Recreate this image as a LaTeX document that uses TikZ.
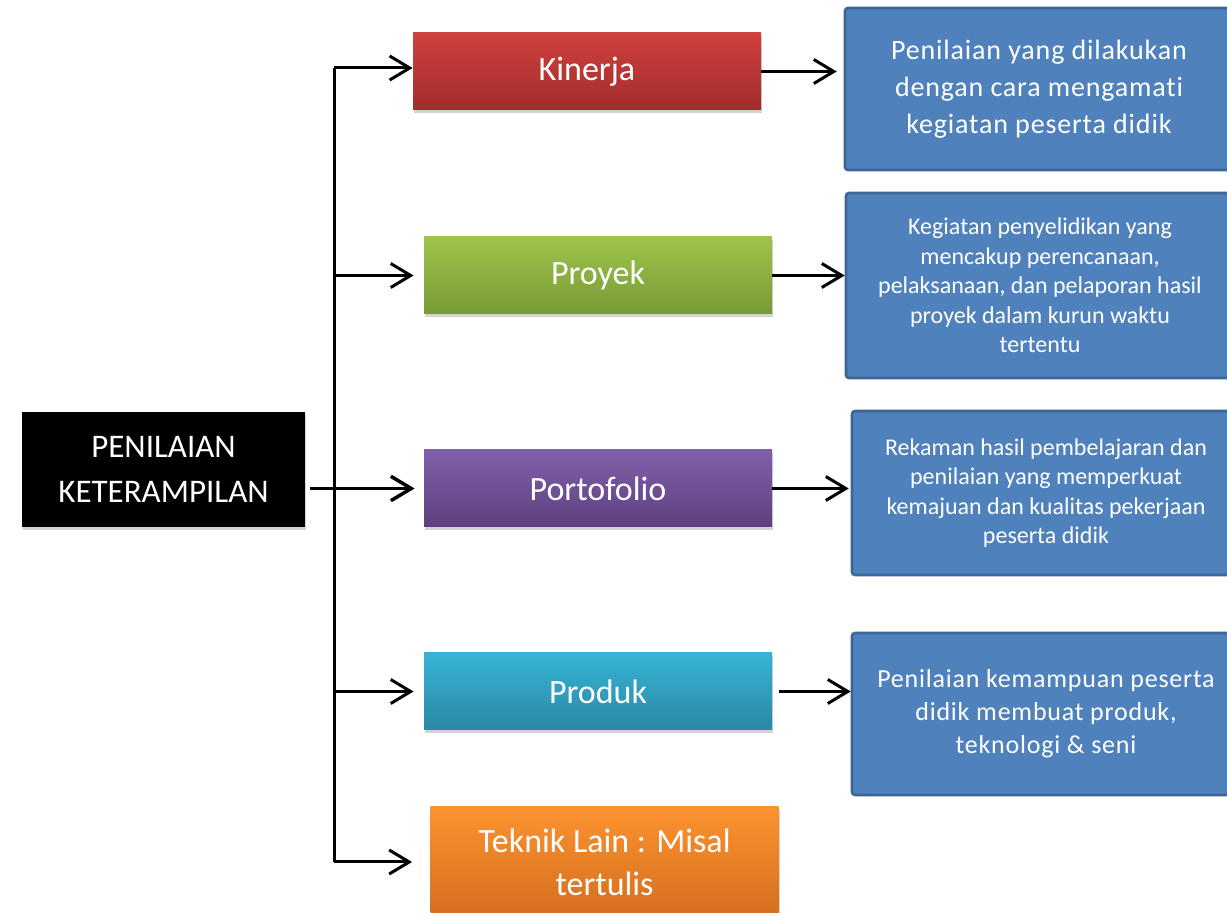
\documentclass[tikz,border=0pt]{standalone}
\usepackage{fontspec}
\setmainfont{Carlito}[Ligatures=NoCommon]
\usetikzlibrary{arrows.meta,shadows,positioning}

\definecolor{kinerjatop}{HTML}{D0403E}
\definecolor{kinerjabot}{HTML}{A12D2B}
\definecolor{proyektop}{HTML}{9DC44B}
\definecolor{proyekbot}{HTML}{779A36}
\definecolor{portotop}{HTML}{8060AA}
\definecolor{portobot}{HTML}{5E4080}
\definecolor{produktop}{HTML}{36B4D6}
\definecolor{produkbot}{HTML}{2A88A4}
\definecolor{tekniktop}{HTML}{FC9330}
\definecolor{teknikbot}{HTML}{D46E1E}
\definecolor{descfill}{HTML}{4F81BD}
\definecolor{descline}{HTML}{3B6693}

\begin{document}
\begin{tikzpicture}[x=0.5pt,y=-0.5pt]
    \tikzstyle{arr}=[line width=1.5pt,-{Straight Barb[length=10pt,width=12pt,line width=1.5pt]}]
    \tikzstyle{boxshadow}=[drop shadow={opacity=0.35,shadow xshift=0.6pt,shadow yshift=-1.6pt}]
    \tikzstyle{mainbox}=[fill=black,boxshadow,text=white,align=center,minimum width=141.5pt,minimum height=57.5pt,font=\fontsize{16.5}{22.5}\selectfont]
    \tikzstyle{method}=[boxshadow,text=white,align=center,minimum width=174pt,minimum height=38.5pt,font=\fontsize{17}{21.5}\selectfont]
    \tikzstyle{desc}=[draw=descline,line width=1.3pt,fill=descfill,rounded corners=1.5pt,text=white,align=center,minimum width=194pt,minimum height=81pt]

    \useasboundingbox (0,0) rectangle (1227,913);

    \node[mainbox] (ketr) at (163.5,469.5) {PENILAIAN\\KETERAMPILAN};

    \node[method,top color=kinerjatop,bottom color=kinerjabot] (kinerja)    at (587,71.5)  {Kinerja};
    \node[method,top color=proyektop,bottom color=proyekbot]   (proyek)     at (598,275.5) {Proyek};
    \node[method,top color=portotop,bottom color=portobot]     (portofolio) at (598,488.5) {Portofolio};
    \node[method,top color=produktop,bottom color=produkbot]   (produk)     at (598,691.5) {Produk};
    \node[method,top color=tekniktop,bottom color=teknikbot,minimum height=55pt] (teknik) at (604.5,862) {Teknik Lain : Misal\\tertulis};

    \node[desc,font=\fontsize{14}{18.5}\selectfont\addfontfeatures{LetterSpace=3}] (desc1) at (1039,89)
      {Penilaian yang dilakukan\\dengan cara mengamati\\kegiatan peserta didik};
    \node[desc,minimum height=92.5pt,font=\fontsize{12}{14.75}\selectfont] (desc2) at (1040,285.5)
      {Kegiatan penyelidikan yang\\mencakup perencanaan,\\pelaksanaan, dan pelaporan hasil\\proyek dalam kurun waktu\\tertentu};
    \node[desc,minimum height=82pt,font=\fontsize{12}{14.75}\selectfont] (desc3) at (1046,493)
      {Rekaman hasil pembelajaran dan\\penilaian yang memperkuat\\kemajuan dan kualitas pekerjaan\\peserta didik};
    \node[desc,font=\fontsize{13}{16.5}\selectfont\addfontfeatures{LetterSpace=3}] (desc4) at (1046,714)
      {Penilaian kemampuan peserta\\didik membuat produk,\\teknologi \& seni};

    \coordinate (trunktop) at (334,68);
    \coordinate (trunkbot) at (teknik.west -| trunktop);
    \draw[line width=1.5pt] (trunktop) -- (trunkbot);
    \draw[arr] (trunktop) -- (trunktop -| kinerja.west);
    \foreach \b in {proyek,portofolio,produk}
      \draw[arr,shorten >=5pt] (\b.west -| trunktop) -- (\b.west);
    \draw[arr,shorten >=9pt] (trunkbot) -- (teknik.west);
    \draw[arr,shorten <=2.5pt,shorten >=4.5pt] (portofolio.west -| ketr.east) -- (portofolio.west);

    \draw[arr,shorten >=3.5pt] (kinerja.east) -- (kinerja.east -| desc1.west);
    \draw[arr] (proyek.east) -- (proyek.east -| desc2.west);
    \draw[arr,shorten >=1pt] (portofolio.east) -- (portofolio.east -| desc3.west);
    \draw[arr,shorten <=3.5pt] (produk.east) -- (produk.east -| desc4.west);
\end{tikzpicture}
\end{document}
